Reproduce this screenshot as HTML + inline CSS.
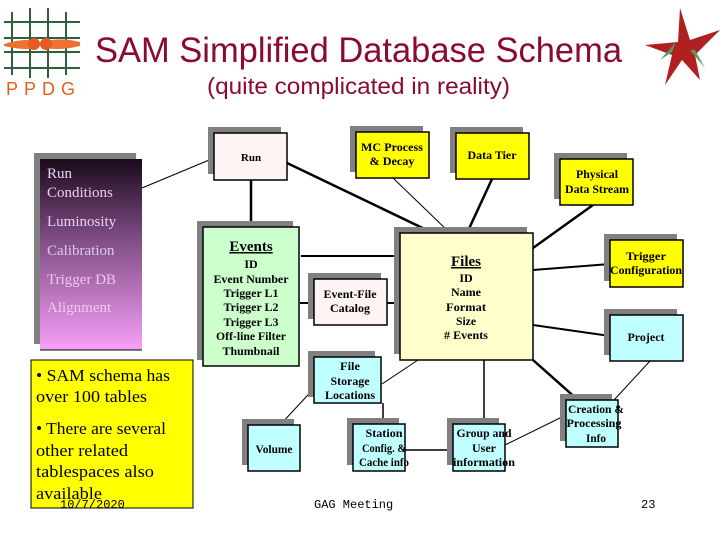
<!DOCTYPE html>
<html><head><style>
body{margin:0;width:720px;height:540px;background:#fff;overflow:hidden;font-family:"Liberation Serif",serif}
</style></head><body>
<svg width="720" height="540" xmlns="http://www.w3.org/2000/svg" font-family="Liberation Serif, serif">
<defs>
<linearGradient id="g" x1="0" y1="0" x2="0" y2="1">
<stop offset="0" stop-color="#1a0a1a"/><stop offset="0.4" stop-color="#7a4a80"/><stop offset="1" stop-color="#f8a0f8"/>
</linearGradient>
</defs>
<g stroke="#2f5f3f" stroke-width="2" fill="none">
<line x1="12" y1="12" x2="12" y2="75"/><line x1="30" y1="8" x2="30" y2="78"/><line x1="48" y1="8" x2="48" y2="78"/><line x1="66" y1="12" x2="66" y2="75"/>
<line x1="4" y1="22" x2="80" y2="22"/><line x1="4" y1="38" x2="80" y2="38"/><line x1="4" y1="52" x2="80" y2="52"/><line x1="4" y1="68" x2="80" y2="68"/>
</g>
<path d="M4 44 Q30 36 40 44 Q55 36 80 42 L80 46 Q55 52 40 46 Q30 52 4 46Z" fill="#f07030"/>
<circle cx="34" cy="44" r="6" fill="#e85a20"/><circle cx="46" cy="44" r="6" fill="#e85a20"/>
<text x="6" y="95" font-family="Liberation Sans, sans-serif" font-size="18" fill="#e06020" letter-spacing="6">PPDG</text>
<text x="95" y="62" font-family="Liberation Sans, sans-serif" font-size="35" fill="#8a0a30" textLength="527" lengthAdjust="spacingAndGlyphs">SAM Simplified Database Schema</text>
<text x="207" y="94" font-family="Liberation Sans, sans-serif" font-size="23" fill="#8a0a30" textLength="303" lengthAdjust="spacingAndGlyphs">(quite complicated in reality)</text>
<path d="M680 8 L690 40 L720 30 L695 55 L700 80 L682 60 L665 85 L672 55 L645 45 L678 42Z" fill="#b02020"/>
<path d="M676 42 L660 60 L672 52Z M690 50 L705 68 L695 50Z" fill="#5a9a5a"/>

<g stroke="#000" fill="none">
<line x1="142" y1="188" x2="214" y2="158" stroke-width="1"/>
<line x1="251" y1="180" x2="251" y2="227" stroke-width="2.5"/>
<line x1="287" y1="163" x2="433" y2="233" stroke-width="2.5"/>
<line x1="393" y1="178" x2="450" y2="233" stroke-width="1"/>
<line x1="492" y1="179" x2="467" y2="233" stroke-width="2.5"/>
<line x1="593" y1="205" x2="533" y2="248" stroke-width="2.5"/>
<line x1="610" y1="264" x2="533" y2="270" stroke-width="2"/>
<line x1="610" y1="336" x2="533" y2="325" stroke-width="2"/>
<line x1="301" y1="256" x2="400" y2="256" stroke-width="2"/>
<line x1="300" y1="303" x2="314" y2="303" stroke-width="2"/>
<line x1="387" y1="303" x2="400" y2="303" stroke-width="2"/>
<line x1="418" y1="360" x2="382" y2="384" stroke-width="1"/>
<line x1="484" y1="360" x2="484" y2="424" stroke-width="1.5"/>
<line x1="533" y1="360" x2="578" y2="400" stroke-width="2.5"/>
<line x1="650" y1="361" x2="614" y2="400" stroke-width="1"/>
<line x1="280" y1="425" x2="320" y2="382" stroke-width="1"/>
<line x1="383" y1="403" x2="383" y2="424" stroke-width="1.5"/>
<line x1="405" y1="450" x2="453" y2="450" stroke-width="1.5"/>
<line x1="505" y1="445" x2="566" y2="415" stroke-width="1"/>
</g>

<g fill="#808080">
<rect x="34" y="153" width="102" height="191"/>
<rect x="208" y="127" width="73" height="47"/>
<rect x="197" y="221" width="96" height="139"/>
<rect x="350" y="126" width="73" height="46"/>
<rect x="450" y="127" width="73" height="46"/>
<rect x="554" y="153" width="73" height="46"/>
<rect x="394" y="227" width="133" height="127"/>
<rect x="604" y="234" width="73" height="47"/>
<rect x="604" y="309" width="73" height="46"/>
<rect x="308" y="273" width="73" height="46"/>
<rect x="308" y="351" width="67" height="46"/>
<rect x="242" y="419" width="52" height="46"/>
<rect x="347" y="418" width="52" height="47"/>
<rect x="447" y="418" width="52" height="47"/>
<rect x="560" y="394" width="52" height="47"/>
</g>
<rect x="40" y="159" width="102" height="191" fill="url(#g)"/>
<line x1="40" y1="350" x2="142" y2="350" stroke="#000"/>
<g stroke="#000" stroke-width="1.5">
<rect x="214" y="133" width="73" height="47" fill="#fff4f4"/>
<rect x="203" y="227" width="96" height="139" fill="#ccffcc"/>
<rect x="356" y="132" width="73" height="46" fill="#ffff00"/>
<rect x="456" y="133" width="73" height="46" fill="#ffff00"/>
<rect x="560" y="159" width="73" height="46" fill="#ffff00"/>
<rect x="400" y="233" width="133" height="127" fill="#ffffcc"/>
<rect x="610" y="240" width="73" height="47" fill="#ffff00"/>
<rect x="610" y="315" width="73" height="46" fill="#c0ffff"/>
<rect x="314" y="279" width="73" height="46" fill="#fff4f4"/>
<rect x="314" y="357" width="67" height="46" fill="#c0ffff"/>
<rect x="248" y="425" width="52" height="46" fill="#c0ffff"/>
<rect x="353" y="424" width="52" height="47" fill="#c0ffff"/>
<rect x="453" y="424" width="52" height="47" fill="#c0ffff"/>
<rect x="566" y="400" width="52" height="47" fill="#c0ffff"/>
<rect x="31" y="360" width="162" height="148" fill="#ffff00" stroke-width="1"/>
</g>

<g font-size="15" fill="#e8d0f0">
<text x="47" y="178">Run</text><text x="47" y="197">Conditions</text>
<text x="47" y="226">Luminosity</text>
<text x="47" y="255" fill="#e0c8f0">Calibration</text>
<text x="47" y="284" fill="#e8c8f0">Trigger DB</text>
<text x="47" y="312" fill="#f0c8f8">Alignment</text>
</g>

<g font-size="12" font-weight="bold" text-anchor="middle" fill="#000">
<text x="251" y="161" font-size="11">Run</text>
<text x="251" y="251" font-size="15" text-decoration="underline">Events</text>
<text x="251" y="268">ID</text>
<text x="251" y="283" textLength="75" lengthAdjust="spacingAndGlyphs">Event Number</text>
<text x="251" y="297" textLength="55" lengthAdjust="spacingAndGlyphs">Trigger L1</text>
<text x="251" y="311" textLength="55" lengthAdjust="spacingAndGlyphs">Trigger L2</text>
<text x="251" y="326" textLength="55" lengthAdjust="spacingAndGlyphs">Trigger L3</text>
<text x="251" y="340" textLength="70" lengthAdjust="spacingAndGlyphs">Off-line Filter</text>
<text x="251" y="355" textLength="57" lengthAdjust="spacingAndGlyphs">Thumbnail</text>
<text x="392" y="151" textLength="62" lengthAdjust="spacingAndGlyphs">MC Process</text>
<text x="392" y="165" textLength="45" lengthAdjust="spacingAndGlyphs">&amp; Decay</text>
<text x="492" y="159" textLength="49" lengthAdjust="spacingAndGlyphs">Data Tier</text>
<text x="597" y="178" textLength="42" lengthAdjust="spacingAndGlyphs">Physical</text>
<text x="597" y="193" textLength="64" lengthAdjust="spacingAndGlyphs">Data Stream</text>
<text x="466" y="266" font-size="15" text-decoration="underline">Files</text>
<text x="466" y="282">ID</text>
<text x="466" y="296" textLength="30" lengthAdjust="spacingAndGlyphs">Name</text>
<text x="466" y="311" textLength="40" lengthAdjust="spacingAndGlyphs">Format</text>
<text x="466" y="325" textLength="20" lengthAdjust="spacingAndGlyphs">Size</text>
<text x="466" y="339" textLength="44" lengthAdjust="spacingAndGlyphs"># Events</text>
<text x="646" y="260" textLength="40" lengthAdjust="spacingAndGlyphs">Trigger</text>
<text x="646" y="274" textLength="72" lengthAdjust="spacingAndGlyphs">Configuration</text>
<text x="646" y="341" textLength="37" lengthAdjust="spacingAndGlyphs">Project</text>
<text x="350" y="298" textLength="53" lengthAdjust="spacingAndGlyphs">Event-File</text>
<text x="350" y="312" textLength="40" lengthAdjust="spacingAndGlyphs">Catalog</text>
<text x="350" y="370" textLength="20" lengthAdjust="spacingAndGlyphs">File</text>
<text x="350" y="385" textLength="39" lengthAdjust="spacingAndGlyphs">Storage</text>
<text x="350" y="399" textLength="50" lengthAdjust="spacingAndGlyphs">Locations</text>
<text x="274" y="453" textLength="37" lengthAdjust="spacingAndGlyphs">Volume</text>
<text x="384" y="437" textLength="37" lengthAdjust="spacingAndGlyphs">Station</text>
<text x="384" y="452" textLength="44" lengthAdjust="spacingAndGlyphs">Config. &amp;</text>
<text x="384" y="466" textLength="50" lengthAdjust="spacingAndGlyphs">Cache info</text>
<text x="484" y="437" textLength="55" lengthAdjust="spacingAndGlyphs">Group and</text>
<text x="484" y="452" textLength="24" lengthAdjust="spacingAndGlyphs">User</text>
<text x="484" y="466" textLength="62" lengthAdjust="spacingAndGlyphs">information</text>
<text x="596" y="413" textLength="56" lengthAdjust="spacingAndGlyphs">Creation &amp;</text>
<text x="594" y="427" textLength="55" lengthAdjust="spacingAndGlyphs">Processing</text>
<text x="596" y="442" textLength="20" lengthAdjust="spacingAndGlyphs">Info</text>
</g>

<g font-size="17" fill="#000">
<text x="36" y="381" textLength="134" lengthAdjust="spacingAndGlyphs">• SAM schema has</text>
<text x="36" y="402" textLength="111" lengthAdjust="spacingAndGlyphs">over 100 tables</text>
<text x="36" y="434" textLength="130" lengthAdjust="spacingAndGlyphs">• There are several</text>
<text x="36" y="456" textLength="92" lengthAdjust="spacingAndGlyphs">other related</text>
<text x="36" y="477" textLength="118" lengthAdjust="spacingAndGlyphs">tablespaces also</text>
<text x="36" y="499" textLength="66" lengthAdjust="spacingAndGlyphs">available</text>
</g>
<g font-family="Liberation Mono, monospace" font-size="12" fill="#000">
<text x="60" y="508">10/7/2020</text>
<text x="314" y="508">GAG Meeting</text>
<text x="641" y="508">23</text>
</g>
</svg>
</body></html>
